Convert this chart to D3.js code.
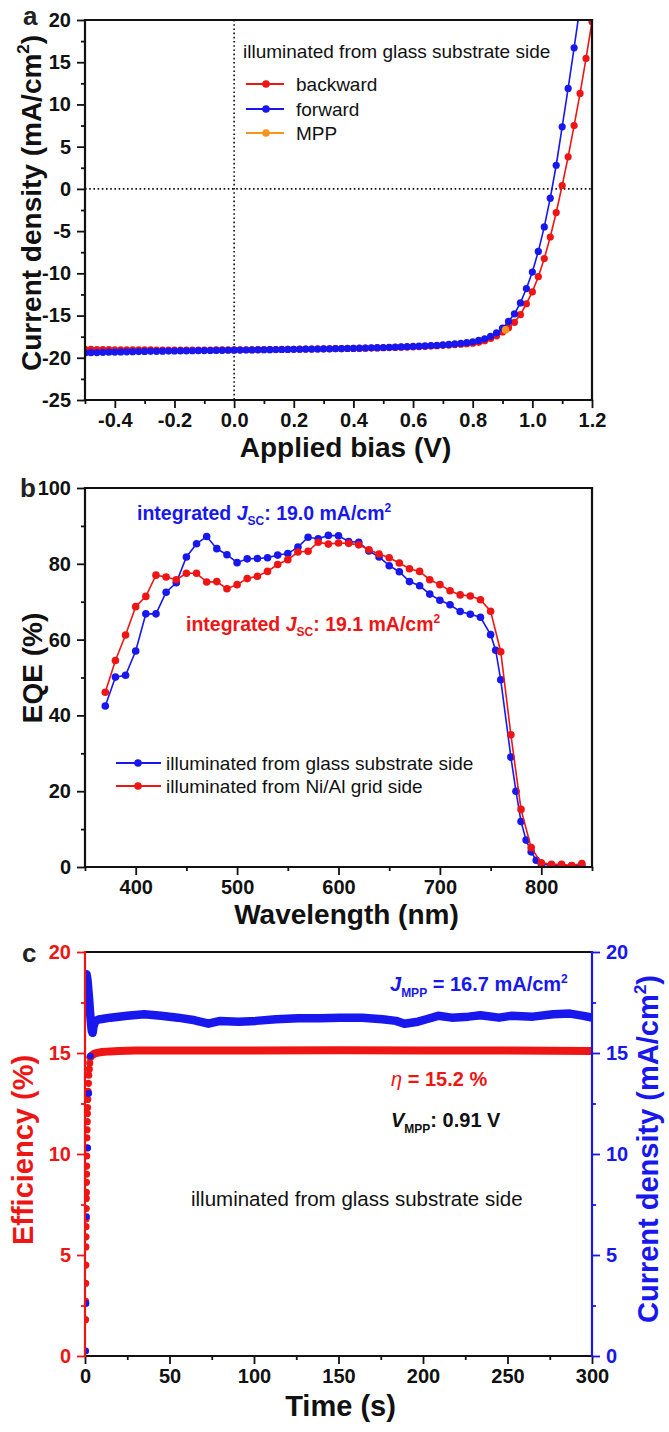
<!DOCTYPE html>
<html><head><meta charset="utf-8">
<script src="https://cdn.jsdelivr.net/npm/d3@7/dist/d3.min.js"></script>
<style>
html,body{margin:0;padding:0;background:#fff;}
svg{display:block;}
text{font-family:"Liberation Sans",Arial,Helvetica,sans-serif;}
</style></head>
<body>
<svg id="fig" width="669" height="1432"></svg>
<script>
// ---------------- Panel a: J-V ----------------
const biasV = [-0.50,-0.48,-0.46,-0.44,-0.42,-0.40,-0.38,-0.36,-0.34,-0.32,-0.30,-0.28,-0.26,-0.24,-0.22,-0.20,-0.18,-0.16,-0.14,-0.12,-0.10,-0.08,-0.06,-0.04,-0.02,0.00,0.02,0.04,0.06,0.08,0.10,0.12,0.14,0.16,0.18,0.20,0.22,0.24,0.26,0.28,0.30,0.32,0.34,0.36,0.38,0.40,0.42,0.44,0.46,0.48,0.50,0.52,0.54,0.56,0.58,0.60,0.62,0.64,0.66,0.68,0.70,0.72,0.74,0.76,0.78,0.80,0.82,0.84,0.86,0.88,0.90,0.92,0.94,0.96,0.98,1.00,1.02,1.04,1.06,1.08,1.10,1.12,1.14,1.16,1.18,1.20];
const jBackward = [-19.00,-19.01,-19.02,-19.03,-19.04,-19.05,-19.05,-19.06,-19.06,-19.07,-19.07,-19.07,-19.08,-19.08,-19.08,-19.08,-19.08,-19.08,-19.08,-19.08,-19.08,-19.08,-19.07,-19.07,-19.07,-19.06,-19.06,-19.05,-19.05,-19.04,-19.03,-19.03,-19.02,-19.01,-19.00,-18.99,-18.98,-18.97,-18.96,-18.95,-18.94,-18.93,-18.92,-18.91,-18.90,-18.89,-18.88,-18.86,-18.85,-18.83,-18.81,-18.79,-18.77,-18.75,-18.73,-18.70,-18.67,-18.64,-18.61,-18.57,-18.53,-18.49,-18.44,-18.39,-18.34,-18.28,-18.17,-17.97,-17.72,-17.40,-16.95,-16.45,-15.80,-14.90,-13.60,-12.20,-10.40,-8.25,-5.70,-2.80,0.40,3.80,7.50,11.30,15.45,19.80];
const jForward = [-19.42,-19.40,-19.38,-19.36,-19.34,-19.33,-19.31,-19.30,-19.28,-19.27,-19.25,-19.24,-19.23,-19.22,-19.21,-19.20,-19.19,-19.18,-19.17,-19.16,-19.15,-19.14,-19.13,-19.12,-19.11,-19.10,-19.09,-19.08,-19.07,-19.06,-19.05,-19.04,-19.03,-19.02,-19.01,-19.00,-18.99,-18.98,-18.97,-18.96,-18.95,-18.94,-18.92,-18.91,-18.89,-18.88,-18.86,-18.84,-18.82,-18.80,-18.78,-18.76,-18.74,-18.72,-18.69,-18.66,-18.63,-18.60,-18.56,-18.52,-18.47,-18.42,-18.36,-18.29,-18.20,-18.10,-17.95,-17.75,-17.45,-17.05,-16.50,-15.70,-14.80,-13.50,-11.80,-9.85,-7.40,-4.50,-1.10,2.80,7.35,11.90,16.70,21.60,26.80,32.10];
const mppV = [0.91];
const mppJ = [-16.7];
const aXTicks = [-0.4,-0.2,0.0,0.2,0.4,0.6,0.8,1.0,1.2];
const aXMinor = [-0.5,-0.3,-0.1,0.1,0.3,0.5,0.7,0.9,1.1];
const aYTicks = [-25,-20,-15,-10,-5,0,5,10,15,20];
const aYMinor = [-22.5,-17.5,-12.5,-7.5,-2.5,2.5,7.5,12.5,17.5];

// ---------------- Panel b: EQE ----------------
const wlGlass = [370,380,390,400,410,420,430,440,450,460,470,480,490,500,510,520,530,540,550,560,570,580,590,600,610,620,630,640,650,660,670,680,690,700,710,720,730,740,750,755,760,770,775,780,785,790,795,800,810,820,830,840];
const eqeGlass = [42.5,50.1,50.6,57.0,66.8,66.8,72.5,75.0,81.8,85.3,87.2,84.0,82.4,80.3,81.3,81.4,81.6,82.3,82.7,84.4,87.0,86.6,87.5,87.4,85.9,85.7,83.4,81.8,79.5,77.9,75.3,74.2,72.0,70.4,69.2,67.4,66.7,65.9,61.3,57.2,49.4,29.0,20.0,12.0,7.1,4.0,1.8,0.8,0.4,0.3,0.3,0.3];
const wlGrid = [370,380,390,400,410,420,430,440,450,460,470,480,490,500,510,520,530,540,550,560,570,580,590,600,610,620,630,640,650,660,670,680,690,700,710,720,730,740,750,760,770,780,790,800,810,820,830,840];
const eqeGrid = [46.1,54.5,61.2,68.7,71.4,77.0,76.5,75.8,77.5,77.5,75.2,75.3,73.4,74.5,76.1,76.7,78.0,79.8,81.1,83.1,83.3,85.7,85.2,85.5,85.4,85.0,83.7,82.6,81.6,80.2,78.7,78.0,75.8,74.5,72.9,71.8,71.5,70.5,67.5,56.8,34.9,15.2,5.1,1.1,0.7,0.7,0.4,0.9];
const bXTicks = [400,500,600,700,800];
const bXMinor = [350,450,550,650,750,850];
const bYTicks = [0,20,40,60,80,100];
const bYMinor = [10,30,50,70,90];

// ---------------- Panel c: MPP tracking ----------------
const effDotT = [0.3,0.35,0.4,0.45,0.5,0.55,0.6,0.65,0.7,0.75,0.8,0.85,0.9,0.95,1.0,1.05,1.1,1.2,1.3,1.4,1.5,1.6,1.8,2.0,2.2,2.5,2.8,3.2];
const effDotV = [1.8,2.7,3.6,4.5,5.4,5.9,6.4,6.8,7.3,7.8,8.1,8.6,9.0,9.4,9.9,10.3,10.8,11.2,11.6,12.0,12.3,12.7,13.1,13.5,13.9,14.2,14.5,14.8];
const effT = [3.2,4,5,6,8,10,15,20,30,50,100,150,200,250,300];
const effV = [14.8,14.88,14.94,14.98,15.02,15.05,15.08,15.1,15.12,15.12,15.12,15.13,15.12,15.12,15.1];
const curDotT = [0.4,0.6,0.9,1.6,2.2,3.2];
const curDotJ = [0.25,2.6,6.9,10.3,13.0,14.85];
const curT = [0.9,1.5,2.0,2.5,3.0,3.5,4.0,4.5,5,6,7,8,10,15,25,35,45,55,65,73,80,91,101,113,126,139,151,164,176,184,189,197,202,209,217,227,234,245,252,265,277,287,295,300];
const curJ = [18.9,18.6,18.1,17.6,17.0,16.5,16.1,16.0,16.3,16.55,16.62,16.66,16.68,16.75,16.84,16.92,16.84,16.75,16.62,16.45,16.59,16.55,16.59,16.67,16.72,16.72,16.75,16.75,16.67,16.59,16.45,16.55,16.67,16.84,16.75,16.8,16.87,16.75,16.84,16.8,16.92,16.95,16.84,16.75];
const cXTicks = [0,50,100,150,200,250,300];
const cXMinor = [25,75,125,175,225,275];
const cYTicks = [0,5,10,15,20];
const cYMinor = [2.5,7.5,12.5,17.5];

// ---------------- styling ----------------
const RED = "#ee1515", BLUE = "#1717ee", ORANGE = "#f7931e", INK = "#111";
const L = 85, R = 592;
const svg = d3.select("#fig");
svg.append("rect").attr("width",669).attr("height",1432).attr("fill","#fff");

function styleAxis(g, color, labels){
  g.select(".domain").remove();
  g.selectAll(".tick line").attr("stroke",color).attr("stroke-width",1.8);
  g.selectAll(".tick text").attr("fill",color).attr("font-size", 20).attr("font-weight","bold")
    .attr("font-family","'Liberation Sans',Arial,sans-serif");
  if(!labels) g.selectAll(".tick text").remove();
}
function bottomAxis(x, y0, major, minor, fmt, color){
  const g1 = svg.append("g").attr("transform",`translate(0,${y0})`)
    .call(d3.axisBottom(x).tickValues(major).tickSize(8).tickPadding(5).tickFormat(fmt));
  styleAxis(g1, color, true);
  const g2 = svg.append("g").attr("transform",`translate(0,${y0})`)
    .call(d3.axisBottom(x).tickValues(minor).tickSize(4).tickFormat(""));
  styleAxis(g2, color, false);
}
function leftAxis(y, x0, major, minor, fmt, color){
  const g1 = svg.append("g").attr("transform",`translate(${x0},0)`)
    .call(d3.axisLeft(y).tickValues(major).tickSize(8).tickPadding(6).tickFormat(fmt));
  styleAxis(g1, color, true);
  const g2 = svg.append("g").attr("transform",`translate(${x0},0)`)
    .call(d3.axisLeft(y).tickValues(minor).tickSize(4).tickFormat(""));
  styleAxis(g2, color, false);
}
function rightAxis(y, x0, major, minor, fmt, color){
  const g1 = svg.append("g").attr("transform",`translate(${x0},0)`)
    .call(d3.axisRight(y).tickValues(major).tickSize(8).tickPadding(6).tickFormat(fmt));
  styleAxis(g1, color, true);
  const g2 = svg.append("g").attr("transform",`translate(${x0},0)`)
    .call(d3.axisRight(y).tickValues(minor).tickSize(4).tickFormat(""));
  styleAxis(g2, color, false);
}
function frameLine(x1,y1,x2,y2,color){
  svg.append("line").attr("x1",x1).attr("y1",y1).attr("x2",x2).attr("y2",y2)
    .attr("stroke",color).attr("stroke-width",2.2).attr("stroke-linecap","square");
}
function clip(id, top, bottom){
  svg.append("clipPath").attr("id",id).append("rect")
    .attr("x",L).attr("y",top).attr("width",R-L).attr("height",bottom-top);
}
function series(gp, x, y, xs, ys, color, r){
  const pts = xs.map((v,i)=>[v, ys[i]]);
  gp.append("path").datum(pts)
    .attr("d", d3.line().x(d=>x(d[0])).y(d=>y(d[1])))
    .attr("fill","none").attr("stroke",color).attr("stroke-width",1.6);
  gp.selectAll(null).data(pts).enter().append("circle")
    .attr("cx",d=>x(d[0])).attr("cy",d=>y(d[1])).attr("r",r).attr("fill",color);
}
function yTitle(x, y, parts, color, size){
  const t = svg.append("text").attr("transform",`translate(${x},${y}) rotate(-90)`)
    .attr("text-anchor","middle").attr("font-size",size).attr("font-weight","bold").attr("fill",color);
  parts.forEach(p=>{
    const s = t.append("tspan").text(p.t);
    if(p.sup){ s.attr("font-size",size*0.6).attr("dy",-size*0.42); }
    if(p.after){ s.attr("dy",size*0.42); }
  });
}
function panelLetter(x, y, s){
  svg.append("text").attr("x",x).attr("y",y).attr("font-size",26).attr("font-weight","bold")
    .attr("fill","#222").text(s);
}

// ===== Panel a =====
{
  const top = 20, bottom = 400;
  const x = d3.scaleLinear().domain([-0.5,1.2]).range([L,R]);
  const y = d3.scaleLinear().domain([-25,20]).range([bottom,top]);
  clip("clipA", top, bottom);
  const gp = svg.append("g").attr("clip-path","url(#clipA)");
  // dotted zero lines
  gp.append("line").attr("x1",x(0)).attr("x2",x(0)).attr("y1",top).attr("y2",bottom)
    .attr("stroke","#111").attr("stroke-width",1.6).attr("stroke-dasharray","1.6,2.6");
  gp.append("line").attr("x1",L).attr("x2",R).attr("y1",y(0)).attr("y2",y(0))
    .attr("stroke","#111").attr("stroke-width",1.6).attr("stroke-dasharray","1.6,2.6");
  series(gp, x, y, biasV, jBackward, RED, 3.6);
  series(gp, x, y, biasV, jForward, BLUE, 3.6);
  gp.selectAll(null).data(mppV).enter().append("circle")
    .attr("cx",d=>x(d)).attr("cy",(d,i)=>y(mppJ[i])).attr("r",3.8).attr("fill",ORANGE);

  bottomAxis(x, bottom, aXTicks, aXMinor, d=>d.toFixed(1), INK);
  leftAxis(y, L, aYTicks, aYMinor, d=>String(d), INK);
  frameLine(L,top,R,top,INK); frameLine(R,top,R,bottom,INK);
  frameLine(L,top,L,bottom,INK); frameLine(L,bottom,R,bottom,INK);

  // legend
  svg.append("text").attr("x",243).attr("y",58).attr("font-size",19).attr("fill","#111")
    .text("illuminated from glass substrate side");
  const leg = [{n:"backward",c:RED,y:84},{n:"forward",c:BLUE,y:109},{n:"MPP",c:ORANGE,y:133}];
  leg.forEach(e=>{
    svg.append("line").attr("x1",246).attr("x2",284).attr("y1",e.y).attr("y2",e.y)
      .attr("stroke",e.c).attr("stroke-width",1.8);
    svg.append("circle").attr("cx",266).attr("cy",e.y).attr("r",3.8).attr("fill",e.c);
    svg.append("text").attr("x",296).attr("y",e.y+7).attr("font-size",19).attr("fill","#111").text(e.n);
  });
  svg.append("text").attr("x",(L+R)/2+7).attr("y",457).attr("text-anchor","middle")
    .attr("font-size",28).attr("font-weight","bold").attr("fill","#111").text("Applied bias (V)");
  yTitle(41, 203, [{t:"Current density (mA/cm"},{t:"2",sup:true},{t:")",after:true}], "#111", 28);
  panelLetter(23, 25, "a");
}

// ===== Panel b =====
{
  const top = 488, bottom = 867;
  const x = d3.scaleLinear().domain([350,850]).range([L,R]);
  const y = d3.scaleLinear().domain([0,100]).range([bottom,top]);
  clip("clipB", top, bottom);
  const gp = svg.append("g").attr("clip-path","url(#clipB)");
  series(gp, x, y, wlGlass, eqeGlass, BLUE, 3.8);
  series(gp, x, y, wlGrid, eqeGrid, RED, 3.8);
  bottomAxis(x, bottom, bXTicks, bXMinor, d=>String(d), INK);
  leftAxis(y, L, bYTicks, bYMinor, d=>String(d), INK);
  frameLine(L,top,R,top,INK); frameLine(R,top,R,bottom,INK);
  frameLine(L,top,L,bottom,INK); frameLine(L,bottom,R,bottom,INK);

  function jsc(xp, yp, color, val){
    const t = svg.append("text").attr("x",xp).attr("y",yp).attr("font-size",19.5)
      .attr("font-weight","bold").attr("fill",color);
    t.append("tspan").text("integrated ");
    t.append("tspan").attr("font-style","italic").text("J");
    t.append("tspan").attr("font-size",12).attr("dy",5).text("SC");
    t.append("tspan").attr("dy",-5).text(": " + val + " mA/cm");
    t.append("tspan").attr("font-size",12).attr("dy",-8).text("2");
  }
  jsc(137, 520, BLUE, "19.0");
  jsc(186, 631, RED, "19.1");

  const leg = [{n:"illuminated from glass substrate side",c:BLUE,y:763},{n:"illuminated from Ni/Al grid side",c:RED,y:786}];
  leg.forEach(e=>{
    svg.append("line").attr("x1",116).attr("x2",161).attr("y1",e.y).attr("y2",e.y)
      .attr("stroke",e.c).attr("stroke-width",1.8);
    svg.append("circle").attr("cx",138).attr("cy",e.y).attr("r",3.8).attr("fill",e.c);
    svg.append("text").attr("x",166).attr("y",e.y+7).attr("font-size",19).attr("fill","#111").text(e.n);
  });
  svg.append("text").attr("x",(L+R)/2+8).attr("y",924).attr("text-anchor","middle")
    .attr("font-size",28).attr("font-weight","bold").attr("fill","#111").text("Wavelength (nm)");
  yTitle(42, 668, [{t:"EQE (%)"}], "#111", 28);
  panelLetter(20, 497, "b");
}

// ===== Panel c =====
{
  const top = 952, bottom = 1356;
  const x = d3.scaleLinear().domain([0,300]).range([L,R]);
  const yE = d3.scaleLinear().domain([0,20]).range([bottom,top]);
  const yJ = d3.scaleLinear().domain([0,20]).range([bottom,top]);
  clip("clipC", top, bottom);
  const gp = svg.append("g").attr("clip-path","url(#clipC)");
  // current density (right axis)
  gp.append("path").datum(curT.map((t,i)=>[t,curJ[i]]))
    .attr("d", d3.line().x(d=>x(d[0])).y(d=>yJ(d[1])))
    .attr("fill","none").attr("stroke",BLUE).attr("stroke-width",8.5).attr("stroke-linejoin","round").attr("stroke-linecap","round");
  // efficiency (left axis)
  gp.append("path").datum(effT.map((t,i)=>[t,effV[i]]))
    .attr("d", d3.line().x(d=>x(d[0])).y(d=>yE(d[1])))
    .attr("fill","none").attr("stroke",RED).attr("stroke-width",8).attr("stroke-linejoin","round").attr("stroke-linecap","round");
  gp.selectAll(null).data(effDotT).enter().append("circle")
    .attr("cx",d=>x(d)).attr("cy",(d,i)=>yE(effDotV[i])).attr("r",3.6).attr("fill",RED);
  gp.selectAll(null).data(curDotT).enter().append("circle")
    .attr("cx",d=>x(d)).attr("cy",(d,i)=>yJ(curDotJ[i])).attr("r",3.4).attr("fill",BLUE);

  bottomAxis(x, bottom, cXTicks, cXMinor, d=>String(d), INK);
  leftAxis(yE, L, cYTicks, cYMinor, d=>String(d), RED);
  rightAxis(yJ, R, cYTicks, cYMinor, d=>String(d), BLUE);
  frameLine(L,top,R,top,INK); frameLine(L,bottom,R,bottom,INK);
  frameLine(L,top,L,bottom,RED); frameLine(R,top,R,bottom,BLUE);

  // annotations
  const t1 = svg.append("text").attr("x",390).attr("y",991).attr("font-size",20).attr("font-weight","bold").attr("fill",BLUE);
  t1.append("tspan").attr("font-style","italic").text("J");
  t1.append("tspan").attr("font-size",12).attr("dy",6).text("MPP");
  t1.append("tspan").attr("dy",-6).text(" = 16.7 mA/cm");
  t1.append("tspan").attr("font-size",12).attr("dy",-8).text("2");

  const t2 = svg.append("text").attr("x",391).attr("y",1086).attr("font-size",20).attr("font-weight","bold").attr("fill",RED);
  t2.append("tspan").attr("font-style","italic").attr("font-weight","normal").text("η");
  t2.append("tspan").text(" = 15.2 %");

  const t3 = svg.append("text").attr("x",391).attr("y",1127).attr("font-size",20).attr("font-weight","bold").attr("fill","#111");
  t3.append("tspan").attr("font-style","italic").text("V");
  t3.append("tspan").attr("font-size",12).attr("dy",6).text("MPP");
  t3.append("tspan").attr("dy",-6).text(": 0.91 V");

  svg.append("text").attr("x",191).attr("y",1206).attr("font-size",20.5).attr("fill","#111")
    .text("illuminated from glass substrate side");

  svg.append("text").attr("x",(L+R)/2+2).attr("y",1416).attr("text-anchor","middle")
    .attr("font-size",29).attr("font-weight","bold").attr("fill","#111").text("Time (s)");
  yTitle(33, 1150, [{t:"Efficiency (%)"}], RED, 29);
  yTitle(658, 1149, [{t:"Current density (mA/cm"},{t:"2",sup:true},{t:")",after:true}], BLUE, 29);
  panelLetter(22, 962, "c");
}
</script>
</body></html>
